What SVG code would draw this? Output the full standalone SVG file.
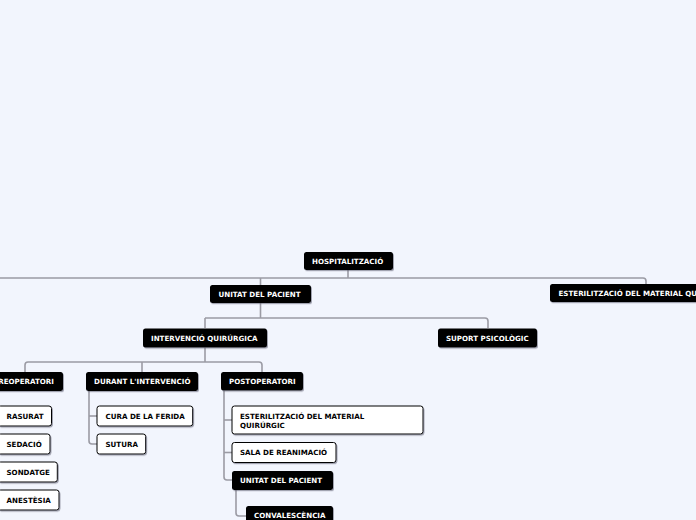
<svg xmlns="http://www.w3.org/2000/svg" width="696" height="520" viewBox="0 0 696 520">
<defs>
<filter id="sh" x="-10%" y="-30%" width="120%" height="170%">
<feDropShadow dx="1" dy="1.2" stdDeviation="0.7" flood-color="#606070" flood-opacity="0.55"/>
</filter>
<style>
.b rect{fill:#000;filter:url(#sh)}
.w rect{fill:#fff;stroke:#000;stroke-width:1;filter:url(#sh)}
text{font-family:"DejaVu Sans",Verdana,sans-serif;font-weight:bold;font-size:7.1px}
.b text{fill:#fff}
.w text{fill:#000}
#connectors path{fill:none;stroke:#9b9ba4;stroke-width:1.6}
</style>
</defs>
<rect x="0" y="0" width="696" height="520" fill="#f2f5fd"/>
<g id="connectors">
<path d="M348,270 V278"/>
<path d="M-20,278 H643 Q646,278 646,281 V284"/>
<path d="M260.5,278 V285"/>
<path d="M260.5,303 V318"/>
<path d="M205,318 H485 Q488,318 488,321 V328"/>
<path d="M205,318 V328"/>
<path d="M205,347.5 V362"/>
<path d="M28,362 H259 Q262,362 262,365 V372"/>
<path d="M28,362 Q25,362 25,365 V372"/>
<path d="M142,362 V372"/>
<path d="M89,391 V441 Q89,444 92,444 H97"/>
<path d="M89,416 H97"/>
<path d="M-9,391 V497 Q-9,500 -6,500 H-2"/>
<path d="M-9,416 H-2 M-9,444 H-2 M-9,472 H-2"/>
<path d="M224,390.5 V477 Q224,480 227,480 H232"/>
<path d="M224,420 H232"/>
<path d="M224,452.5 H232"/>
<path d="M236,490 V513 Q236,516 239,516 H246"/>
</g>
<g id="n-hospitalitzacio" class="b"><rect x="304" y="252" width="89" height="18" rx="2.5"/><text x="312" y="263.5">HOSPITALITZACIÓ</text></g>
<g id="n-unitat-pacient" class="b"><rect x="210" y="285" width="101" height="18" rx="2.5"/><text x="218.5" y="296.5">UNITAT DEL PACIENT</text></g>
<g id="n-esterilitzacio-top" class="b"><rect x="550" y="284" width="200" height="18" rx="2.5"/><text x="558.5" y="295.5">ESTERILITZACIÓ DEL MATERIAL QUIRÚRGIC</text></g>
<g id="n-intervencio" class="b"><rect x="143" y="328.5" width="124" height="19" rx="2.5"/><text x="151" y="340.5">INTERVENCIÓ QUIRÚRGICA</text></g>
<g id="n-suport" class="b"><rect x="438" y="328.5" width="99" height="19" rx="2.5"/><text x="446" y="340.5">SUPORT PSICOLÒGIC</text></g>
<g id="n-preoperatori" class="b"><rect x="-15" y="372" width="78" height="19" rx="2.5"/><text x="-7" y="384">PREOPERATORI</text></g>
<g id="n-durant" class="b"><rect x="86" y="372" width="112" height="19" rx="2.5"/><text x="94" y="384">DURANT L'INTERVENCIÓ</text></g>
<g id="n-postoperatori" class="b"><rect x="221" y="372" width="82" height="18.5" rx="2.5"/><text x="229" y="384">POSTOPERATORI</text></g>
<g id="n-rasurat" class="w"><rect x="-2" y="406" width="53.5" height="20" rx="2.5"/><text x="6.5" y="418.5">RASURAT</text></g>
<g id="n-sedacio" class="w"><rect x="-2" y="434" width="52" height="20" rx="2.5"/><text x="6.5" y="446.5">SEDACIÓ</text></g>
<g id="n-sondatge" class="w"><rect x="-2" y="462" width="59.3" height="20" rx="2.5"/><text x="6.5" y="474.5">SONDATGE</text></g>
<g id="n-anestesia" class="w"><rect x="-2" y="490" width="61" height="20" rx="2.5"/><text x="6.5" y="502.5">ANESTÈSIA</text></g>
<g id="n-cura" class="w"><rect x="97" y="406" width="95.7" height="20" rx="2.5"/><text x="105.5" y="418.5">CURA DE LA FERIDA</text></g>
<g id="n-sutura" class="w"><rect x="97" y="434" width="48.7" height="20" rx="2.5"/><text x="105.5" y="446.5">SUTURA</text></g>
<g id="n-esterilitzacio" class="w"><rect x="232" y="406" width="191" height="28" rx="2.5"/><text x="240" y="419.3">ESTERILITZACIÓ DEL MATERIAL</text><text x="240" y="427.5">QUIRÚRGIC</text></g>
<g id="n-sala" class="w"><rect x="232" y="442.5" width="104" height="20" rx="2.5"/><text x="240" y="455">SALA DE REANIMACIÓ</text></g>
<g id="n-unitat-pacient-2" class="b"><rect x="232" y="471" width="101" height="19" rx="2.5"/><text x="240" y="483">UNITAT DEL PACIENT</text></g>
<g id="n-convalescencia" class="b"><rect x="246" y="506" width="87" height="20" rx="2.5"/><text x="254" y="517.7">CONVALESCÈNCIA</text></g>
</svg>
